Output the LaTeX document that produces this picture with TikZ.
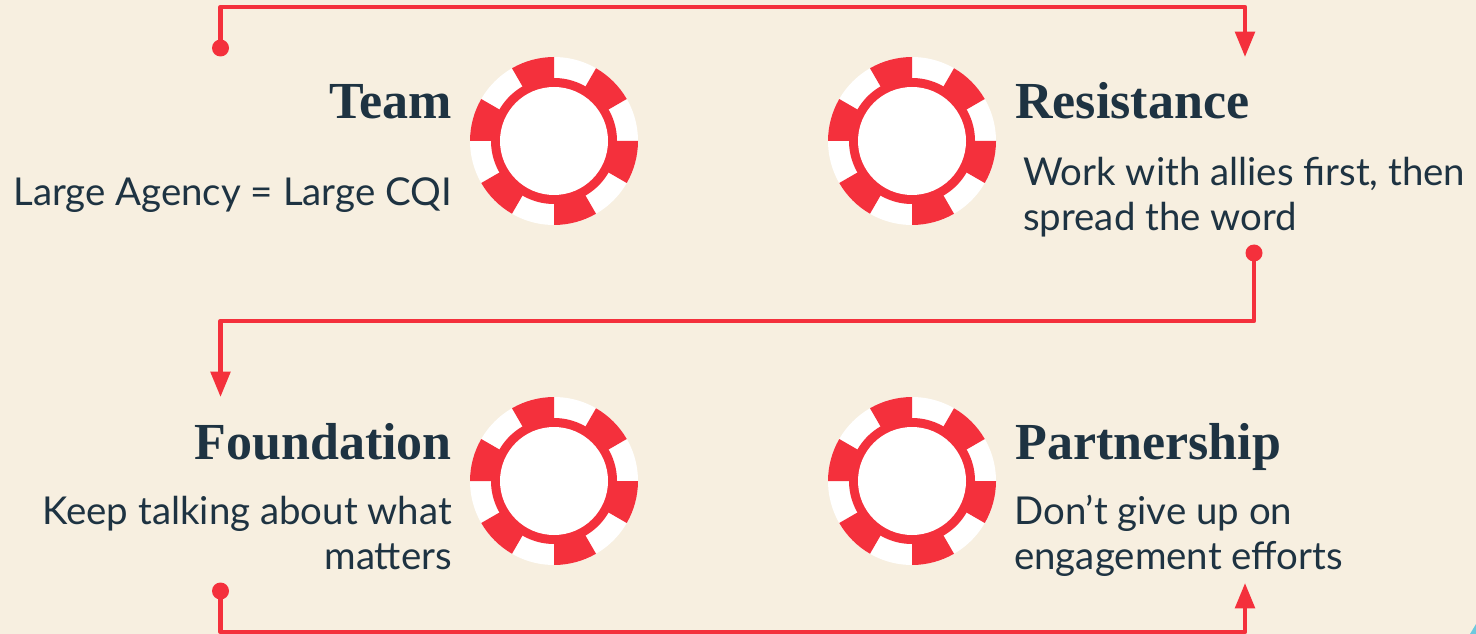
\documentclass[tikz,border=0pt]{standalone}
\usepackage{fontspec}
\setmainfont{Lato}
\newfontfamily\headfont{Liberation Serif}[BoldFont={Liberation Serif Bold}]
\usetikzlibrary{arrows.meta}
\definecolor{chipred}{HTML}{F4303C}
\definecolor{paper}{HTML}{F7EFE0}
\definecolor{inktext}{HTML}{1E3342}
\definecolor{cornerblue}{HTML}{6CC9DE}
\tikzset{
  title/.style={font=\headfont\bfseries\fontsize{39}{39}\selectfont, text=inktext, inner sep=0pt},
  body/.style={font=\fontsize{28.8}{33.75}\selectfont, text=inktext, inner sep=0pt},
  dot/.style={circle, fill=chipred, inner sep=0pt, minimum size=12.75pt},
  flow/.style={draw=chipred, line width=3.3pt, line join=round, -{Triangle[width=14.5pt,length=19pt]}},
}
\newcommand{\chip}[2]{
  \fill[white] (#1) circle (84);
  \foreach \a in {30,90,...,330}
    \fill[chipred] (#1)++(\a-30:84) arc (\a-30:\a:84) -- ++(\a:-22) arc (\a:\a-30:62) -- cycle;
  \fill[chipred] (#1) circle (63);
  \node[circle, fill=white, inner sep=0pt, minimum size=81pt] (#2) at (#1) {};
}
\begin{document}
\begin{tikzpicture}[x=0.75pt,y=-0.75pt]
	\useasboundingbox[fill=paper] (0,0) rectangle (1476,634);
	\fill[cornerblue] (1476,624) -- (1470,634) -- (1476,634) -- cycle;
	% chips
	\chip{554,141}{teamchip}
	\chip{912,141}{reschip}
	\chip{554,481}{foundchip}
	\chip{912,481}{partchip}
	% labels
	\node[title, anchor=base east] (team) at (452,119) {Team};
	\node[title, anchor=base west] (resistance) at (1015,119) {Resistance};
	\node[title, anchor=base east] (foundation) at (452,459) {Foundation};
	\node[title, anchor=base west] (partnership) at (1015,459) {Partnership};
	\node[body, anchor=base east] (teamtext) at (452,206) {Large Agency = Large CQI};
	\node[body, anchor=base west] (restext1) at (1023,186) {Work with allies first, then};
	\node[body, anchor=base west] (restext2) at (1023,231) {spread the word};
	\node[body, anchor=base east] (foundtext1) at (452,524) {Keep talking about what};
	\node[body, anchor=base east] (foundtext2) at (452,569) {matters};
	\node[body, anchor=base west] (parttext1) at (1014,524) {Don’t give up on};
	\node[body, anchor=base west] (parttext2) at (1014,569) {engagement efforts};
	% connectors
	\node[dot] (dota) at (220.5,48) {};
	\node[dot] (dotb) at (1254,253) {};
	\node[dot] (dotc) at (220.5,591) {};
	\coordinate (tipa) at (1245,57);
	\coordinate (tipb) at (220.5,397);
	\coordinate (tipc) at (1245,583);
	\coordinate (turna) at (220.5,7);
	\coordinate (turnb) at (1254,321);
	\coordinate (turnc) at (220.5,632);
	\draw[flow] (dota.center) -- (turna) -| (tipa);
	\draw[flow] (dotb.center) -- (turnb) -| (tipb);
	\draw[flow] (dotc.center) -- (turnc) -| (tipc);
\end{tikzpicture}
\end{document}
